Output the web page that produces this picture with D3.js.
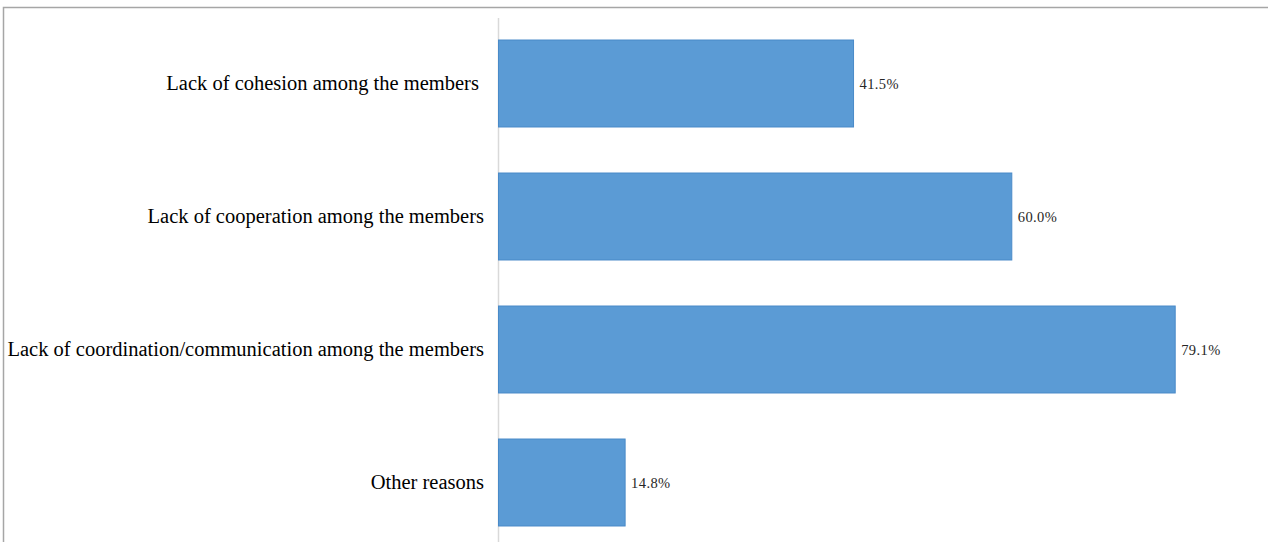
<!DOCTYPE html>
<html>
<head>
<meta charset="utf-8">
<script src="https://cdn.jsdelivr.net/npm/d3@7"></script>
<style>
  html, body { margin: 0; padding: 0; background: #fff; }
  svg { display: block; }
  text.cat { white-space: pre; }
</style>
</head>
<body>
<svg id="chart" width="1268" height="542"></svg>
<script>
// Reasons reported for group problems (share of respondents, %)
const categories = [
  "Lack of cohesion among the members ",
  "Lack of cooperation among the members",
  "Lack of coordination/communication among the members",
  "Other reasons"
];
const values = [41.5, 60.0, 79.1, 14.8];
const valueLabels = ["41.5%", "60.0%", "79.1%", "14.8%"];

const svg = d3.select("#chart");
const W = 1268, H = 542;

// outer frame (top and left edges visible)
svg.append("rect")
  .attr("x", 3.5).attr("y", 7.5)
  .attr("width", W + 10).attr("height", H + 10)
  .attr("fill", "none")
  .attr("stroke", "#a6a6a6")
  .attr("stroke-width", 1.5);

const x0 = 498.5;
const x = d3.scaleLinear().domain([0, 100]).range([x0, x0 + 855.5]);
const y = d3.scaleBand().domain(categories).range([17, 549]).paddingInner(0.346).paddingOuter(0.173);

// category axis line
svg.append("line")
  .attr("x1", x0).attr("x2", x0)
  .attr("y1", 18).attr("y2", H)
  .attr("stroke", "#d9d9d9").attr("stroke-width", 1.5);

// bars
svg.selectAll("rect.bar")
  .data(values)
  .join("rect")
  .attr("class", "bar")
  .attr("x", x(0))
  .attr("y", (d, i) => y(categories[i]))
  .attr("width", d => x(d) - x(0))
  .attr("height", y.bandwidth())
  .attr("fill", "#5b9bd5")
  .attr("stroke", "#4a8ac8")
  .attr("stroke-width", 1);

// value labels
svg.selectAll("text.val")
  .data(values)
  .join("text")
  .attr("class", "val")
  .attr("x", d => x(d) + 6)
  .attr("y", (d, i) => y(categories[i]) + y.bandwidth() / 2)
  .attr("dy", "0.35em")
  .attr("font-family", "Liberation Serif, Times New Roman, serif")
  .attr("font-size", 14.5)
  .attr("letter-spacing", 0.4)
  .attr("fill", "#262626")
  .text((d, i) => valueLabels[i]);

// category labels
svg.selectAll("text.cat")
  .data(categories)
  .join("text")
  .attr("class", "cat")
  .attr("x", 484)
  .attr("y", d => y(d) + y.bandwidth() / 2)
  .attr("dy", "0.32em")
  .attr("text-anchor", "end")
  .attr("font-family", "Liberation Serif, Times New Roman, serif")
  .attr("font-size", 20.5)
  .attr("fill", "#000")
  .text(d => d);
</script>
</body>
</html>
